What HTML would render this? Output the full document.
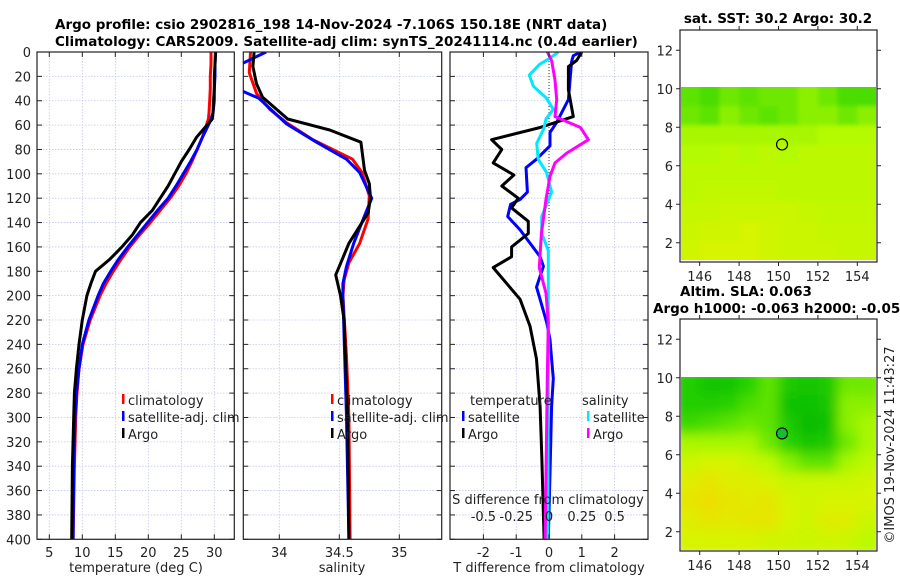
<!DOCTYPE html>
<html><head><meta charset="utf-8">
<style>
body{margin:0;background:#fff;}
svg{display:block;font-family:"DejaVu Sans","Liberation Sans",sans-serif;}
.tk{font-size:13px;fill:#222;}
.tt{font-size:13.5px;font-weight:bold;fill:#000;}
</style></head>
<body>
<svg id="fig" width="900" height="580" viewBox="0 0 900 580" xmlns="http://www.w3.org/2000/svg">
<defs>
<clipPath id="c1"><rect x="37" y="52" width="197.3" height="487.3"/></clipPath>
<clipPath id="c2"><rect x="243.3" y="52" width="198.4" height="487.3"/></clipPath>
<clipPath id="c3"><rect x="450" y="52" width="198" height="487.3"/></clipPath>
<clipPath id="cm1"><rect x="681" y="87" width="195" height="173"/></clipPath>
<clipPath id="cm2"><rect x="681" y="377" width="195" height="173"/></clipPath>
<filter id="bl"><feGaussianBlur stdDeviation="6"/></filter>
<filter id="bl1"><feGaussianBlur stdDeviation="2"/></filter>
</defs>
<text class="tt" x="55" y="29">Argo profile: csio 2902816_198 14-Nov-2024 -7.106S 150.18E (NRT data)</text>
<text class="tt" x="55" y="46">Climatology: CARS2009. Satellite-adj clim: synTS_20241114.nc (0.4d earlier)</text>
<text class="tt" x="778" y="23" text-anchor="middle">sat. SST: 30.2 Argo: 30.2</text>
<text class="tt" x="680" y="296">Altim. SLA: 0.063</text>
<text class="tt" x="653" y="313">Argo h1000: -0.063 h2000: -0.057</text>
<text class="tk" transform="translate(894,445) rotate(-90)" text-anchor="middle">©IMOS 19-Nov-2024 11:43:27</text>
<g id="plots"></g>
</svg>
<script>
// ---------- data ----------
const tDepth = [0,10,20,30,40,50,55,60,70,80,90,100,110,120,130,140,150,160,170,180,190,200,220,240,260,280,300,340,400];
const tArgo  = [30.2,30.1,30.0,30.0,29.9,29.8,29.7,28.9,27.3,26.2,25.0,24.0,23.0,21.8,20.6,18.8,17.6,16.0,14.2,12.0,11.3,10.7,10.0,9.5,9.1,8.8,8.7,8.5,8.4];
const tClim  = [29.5,29.5,29.4,29.4,29.3,29.2,29.1,28.8,28.2,27.4,26.6,25.7,24.6,23.3,21.8,20.3,18.7,17.2,15.9,14.7,13.6,12.7,11.2,10.1,9.5,9.2,9.0,8.8,8.6];
const tSat   = [30.2,30.1,30.1,30.0,30.0,29.8,29.5,29.1,28.2,27.4,26.4,25.3,24.2,23.0,21.4,19.9,18.4,16.9,15.5,14.3,13.2,12.4,11.0,10.0,9.5,9.1,8.9,8.7,8.6];
const sDepthArgo = [0,12,26,37,55,64,74,97,108,120,132,143,157,176,183,200,220,300,400];
const sArgo      = [33.79,33.78,33.81,33.86,34.07,34.42,34.68,34.71,34.75,34.76,34.74,34.67,34.58,34.50,34.47,34.51,34.54,34.57,34.58];
const sDepthClim = [0,17,34,47,58,72,88,99,118,137,157,173,187,200,250,300,400];
const sClim      = [33.76,33.75,33.81,33.92,34.06,34.28,34.61,34.69,34.75,34.74,34.67,34.58,34.54,34.53,34.56,34.58,34.59];
const sDepthSat  = [0,9,15,25,32,38,59,74,88,99,120,137,157,176,190,200,300,400];
const sSat       = [33.89,33.70,33.55,33.55,33.69,33.83,34.06,34.31,34.56,34.67,34.77,34.70,34.62,34.56,34.53,34.53,34.56,34.58];
const dTArgoDepth = [0,7,12,31,53,62,72,80,91,101,110,120,128,139,149,160,168,177,203,225,252,291,332,400];
const dTArgo      = [1.0,0.84,0.59,0.59,0.74,-0.27,-1.75,-1.44,-1.7,-1.07,-1.44,-0.94,-1.14,-0.63,-0.63,-1.14,-1.14,-1.7,-0.88,-0.58,-0.38,-0.27,-0.22,-0.15];
const dTSatDepth = [0,3,8,39,47,58,66,77,88,95,115,121,125,135,146,168,176,193,203,222,236,252,268,291,346,400];
const dTSat      = [0.97,0.74,0.69,0.59,0.44,0.23,0.03,0.03,-0.38,-0.70,-0.66,-0.88,-1.17,-1.26,-0.88,-0.27,-0.17,-0.38,-0.27,-0.07,0.03,0.08,0.13,0.08,0.03,-0.02];
const dSSatDepth = [0,5,10,19,28,38,47,55,63,75,88,99,115,135,149,163,182,263,400];
const dSSat      = [0.071,0.008,-0.07,-0.15,-0.12,-0.018,0.033,-0.023,-0.04,-0.094,-0.082,-0.018,0.02,-0.056,-0.056,-0.005,-0.005,-0.005,-0.01];
const dSArgoDepth = [0,7,23,39,53,62,72,83,91,102,121,149,177,198,222,263,400];
const dSArgo      = [-0.013,0.02,0.046,0.059,0.046,0.24,0.30,0.135,0.046,0.008,-0.023,-0.058,-0.074,-0.023,-0.005,-0.012,-0.03];
const depthTicks = [0,20,40,60,80,100,120,140,160,180,200,220,240,260,280,300,320,340,360,380,400];
const tTicks = [5,10,15,20,25,30];
const sTicks = [34,34.5,35];
const dTTicks = [-2,-1,0,1,2];
const dSTickLabels = ["-0.5","-0.25","0","0.25","0.5"];
const dSTicks = [-0.5,-0.25,0,0.25,0.5];
const mapLatTicks = [2,4,6,8,10,12];
const mapLonTicks = [146,148,150,152,154];
const sstGrid = [
[0.45,0.4,0.5,0.45,0.5,0.5,0.55,0.5,0.4,0.4],
[0.5,0.45,0.55,0.5,0.45,0.5,0.55,0.55,0.5,0.55],
[0.6,0.6,0.6,0.6,0.6,0.6,0.6,0.62,0.62,0.62],
[0.62,0.62,0.65,0.62,0.65,0.62,0.65,0.65,0.65,0.65],
[0.65,0.65,0.65,0.65,0.65,0.65,0.65,0.65,0.65,0.65],
[0.65,0.67,0.67,0.67,0.67,0.65,0.65,0.65,0.65,0.65],
[0.68,0.68,0.7,0.7,0.7,0.7,0.68,0.67,0.67,0.67],
[0.7,0.72,0.72,0.75,0.72,0.7,0.7,0.68,0.68,0.68],
[0.72,0.75,0.75,0.75,0.72,0.7,0.7,0.7,0.68,0.68]];
const slaGrid = [
[0.25,0.15,0.15,0.3,0.45,0.2,0.15,0.2,0.5,0.5],
[0.25,0.25,0.3,0.4,0.45,0.1,0.1,0.15,0.55,0.55],
[0.35,0.4,0.45,0.5,0.45,0.2,0.05,0.1,0.55,0.6],
[0.6,0.6,0.6,0.6,0.5,0.3,0.15,0.2,0.5,0.6],
[0.7,0.75,0.75,0.7,0.65,0.55,0.45,0.45,0.6,0.65],
[0.8,0.85,0.8,0.8,0.75,0.7,0.7,0.7,0.7,0.72],
[0.85,0.9,0.85,0.82,0.85,0.75,0.72,0.75,0.75,0.75],
[0.8,0.85,0.82,0.85,0.85,0.75,0.72,0.8,0.8,0.7],
[0.75,0.75,0.75,0.75,0.72,0.72,0.7,0.72,0.7,0.65]];
const argoLon = [150.18];
const argoLat = [7.106];

// ---------- helpers ----------
const NS="http://www.w3.org/2000/svg";
const root=document.getElementById('plots');
function mk(tag,attrs,parent){const e=document.createElementNS(NS,tag);for(const k in attrs)e.setAttribute(k,attrs[k]);(parent||root).appendChild(e);return e;}
const yD=d=>52+d*(487.3/400);
function lin(d0,d1,r0,r1){return v=>r0+(v-d0)*(r1-r0)/(d1-d0);}
const xT=lin(5,30,49.3,214.3);
const xS=lin(34,35,279.3,399.3);
const xDT=lin(0,1,549,581.8);
const xDS=v=>xDT(v*4);

function panel(x0,x1,name){
  const g=mk('g',{});
  
  
  return g;
}
function grid(g,x0,x1,xs){
  depthTicks.forEach(d=>{const l=mk('line',{x1:x0,x2:x1,y1:yD(d),y2:yD(d),stroke:'#c4c8e8','stroke-width':0.8,'stroke-dasharray':'1.5,1.5'},g);
    });
  xs.forEach(x=>{const l=mk('line',{x1:x,x2:x,y1:52,y2:539.3,stroke:'#c4c8e8','stroke-width':0.8,'stroke-dasharray':'1.5,1.5'},g);
    });
}
function frame(g,x0,x1,xs){
  depthTicks.forEach(d=>{mk('line',{x1:x0,x2:x0+5,y1:yD(d),y2:yD(d),stroke:'#222'},g);mk('line',{x1:x1,x2:x1-5,y1:yD(d),y2:yD(d),stroke:'#222'},g);});
  xs.forEach(x=>{mk('line',{x1:x,x2:x,y1:539.3,y2:534.3,stroke:'#222'},g);mk('line',{x1:x,x2:x,y1:52,y2:57,stroke:'#222'},g);});
  const r=mk('rect',{x:x0,y:52,width:x1-x0,height:487.3,fill:'none',stroke:'#222','stroke-width':1.2},g);
  
}
function line(g,xs,ys,xf,col,name,clip){
  const pts=xs.map((v,i)=>xf(v).toFixed(1)+','+yD(ys[i]).toFixed(1)).join(' ');
  const p=mk('polyline',{points:pts,fill:'none',stroke:col,'stroke-width':3,'stroke-linejoin':'round','clip-path':'url(#'+clip+')'},g);
  
}
function txt(g,x,y,s,anchor,name,col){
  const t=mk('text',{x:x,y:y,class:'tk','text-anchor':anchor||'start'},g);
  if(col)t.setAttribute('fill',col);
  t.textContent=s;
  return t;
}
function legend(g,x,y,items,name){
  const lg=mk('g',{},g);
  
  items.forEach((it,i)=>{
    const yy=y+i*17;
    const b=mk('rect',{x:x,y:yy-7,width:2.5,height:10,fill:it[1]},lg);
    
    txt(lg,x+6,yy+4,it[0],'start','legend-entry');
  });
}

// ---------- panel 1: temperature ----------
let g=panel(37,234.3,'temperature-panel');
grid(g,37,234.3,tTicks.map(xT));
line(g,tClim,tDepth,xT,'#ff0000','climatology-temp-line','c1');
line(g,tSat,tDepth,xT,'#0000ff','satellite-temp-line','c1');
line(g,tArgo,tDepth,xT,'#000000','argo-temp-line','c1');
frame(g,37,234.3,tTicks.map(xT));
depthTicks.forEach(d=>txt(g,31,yD(d)+5,String(d),'end','depth-tick-label'));
tTicks.forEach(t=>txt(g,xT(t),557,String(t),'middle','temp-tick-label'));
txt(g,136,572,'temperature (deg C)','middle','temp-axis-title');
legend(g,122,401,[['climatology','#ff0000'],['satellite-adj. clim','#0000ff'],['Argo','#000000']],'temp-legend');

// ---------- panel 2: salinity ----------
g=panel(243.3,441.7,'salinity-panel');
grid(g,243.3,441.7,sTicks.map(xS));
line(g,sClim,sDepthClim,xS,'#ff0000','climatology-sal-line','c2');
line(g,sSat,sDepthSat,xS,'#0000ff','satellite-sal-line','c2');
line(g,sArgo,sDepthArgo,xS,'#000000','argo-sal-line','c2');
frame(g,243.3,441.7,sTicks.map(xS));
sTicks.forEach(t=>txt(g,xS(t),557,String(t),'middle','sal-tick-label'));
txt(g,342,572,'salinity','middle','sal-axis-title');
legend(g,331,401,[['climatology','#ff0000'],['satellite-adj. clim','#0000ff'],['Argo','#000000']],'sal-legend');

// ---------- panel 3: differences ----------
g=panel(450,648,'difference-panel');
grid(g,450,648,dTTicks.map(xDT));
const z=mk('line',{x1:xDT(0),x2:xDT(0),y1:52,y2:yD(250),stroke:'#333','stroke-width':1,'stroke-dasharray':'1,2'},g);

line(g,dTSat,dTSatDepth,xDT,'#0000ff','satellite-temp-diff-line','c3');
line(g,dTArgo,dTArgoDepth,xDT,'#000000','argo-temp-diff-line','c3');
line(g,dSSat,dSSatDepth,xDS,'#00e8ff','satellite-sal-diff-line','c3');
line(g,dSArgo,dSArgoDepth,xDS,'#ff00ff','argo-sal-diff-line','c3');
frame(g,450,648,dTTicks.map(xDT));
dTTicks.forEach(t=>txt(g,xDT(t),557,String(t),'middle','tdiff-tick-label'));
txt(g,549,572,'T difference from climatology','middle','tdiff-axis-title');
dSTicks.forEach((t,i)=>txt(g,xDS(t),521,dSTickLabels[i],'middle','sdiff-tick-label'));
txt(g,548,504,'S difference from climatology','middle','sdiff-axis-title');
txt(g,470,405,'temperature','start','legend-heading-temperature');
txt(g,582,405,'salinity','start','legend-heading-salinity');
legend(g,462,418,[['satellite','#0000ff'],['Argo','#000000']],'temp-diff-legend');
legend(g,587,418,[['satellite','#00e8ff'],['Argo','#ff00ff']],'sal-diff-legend');

// ---------- maps ----------
function cmap(v){
  const st=[[0,[0,184,0]],[0.3,[40,210,0]],[0.5,[110,232,0]],[0.62,[180,250,0]],[0.75,[215,244,0]],[0.9,[238,222,0]],[1,[245,205,0]]];
  for(let i=1;i<st.length;i++){if(v<=st[i][0]){const a=st[i-1],b=st[i],f=(v-a[0])/(b[0]-a[0]);
    return 'rgb('+a[1].map((c,k)=>Math.round(c+(b[1][k]-c)*f)).join(',')+')';}}
  return 'rgb(245,205,0)';
}
function mapPanel(top,grd,clip,name,blur,circFill){
  const mg=mk('g',{});
  const xL=lin(145,155,680,877), yL=lin(1,13,top+232,top+1);
  const cg=mk('g',{'clip-path':'url(#'+clip+')'},mg);
  const ig=mk('g',{filter:'url(#'+blur+')'},cg);
  grd.forEach((row,r)=>row.forEach((v,c)=>{
    const x0=xL(145+c)-(c==0?8:0), x1=xL(146+c)+(c==9?8:0);
    const y0=yL(10.1-r)-(r==0?8:0), y1=yL(9.1-r)+(r==8?8:0);
    const cell=mk('rect',{x:x0,y:y0,width:x1-x0+0.5,height:y1-y0+0.5,fill:cmap(v)},ig);
    
  }));
  const fr=mk('rect',{x:680,y:top,width:197,height:232,fill:'none',stroke:'#222','stroke-width':1.2},mg);
  
  mapLatTicks.forEach(t=>{mk('line',{x1:680,x2:676,y1:yL(t),y2:yL(t),stroke:'#222'},mg);mk('line',{x1:877,x2:881,y1:yL(t),y2:yL(t),stroke:'#222'},mg);
    txt(mg,673,yL(t)+5,String(t),'end','lat-tick-label');});
  mapLonTicks.forEach(t=>{mk('line',{x1:xL(t),x2:xL(t),y1:top+232,y2:top+236,stroke:'#222'},mg);mk('line',{x1:xL(t),x2:xL(t),y1:top,y2:top-4,stroke:'#222'},mg);
    txt(mg,xL(t),top+251,String(t),'middle','lon-tick-label');});
  argoLon.forEach((lo,i)=>{const c=mk('circle',{cx:xL(lo),cy:yL(argoLat[i]),r:5.5,fill:circFill,stroke:'#000','stroke-width':1.2},mg);
    });
}
mapPanel(30,sstGrid,'cm1','sst-map','bl1','none');
mapPanel(319,slaGrid,'cm2','sla-map','bl','#10c030');
</script>
</body></html>
